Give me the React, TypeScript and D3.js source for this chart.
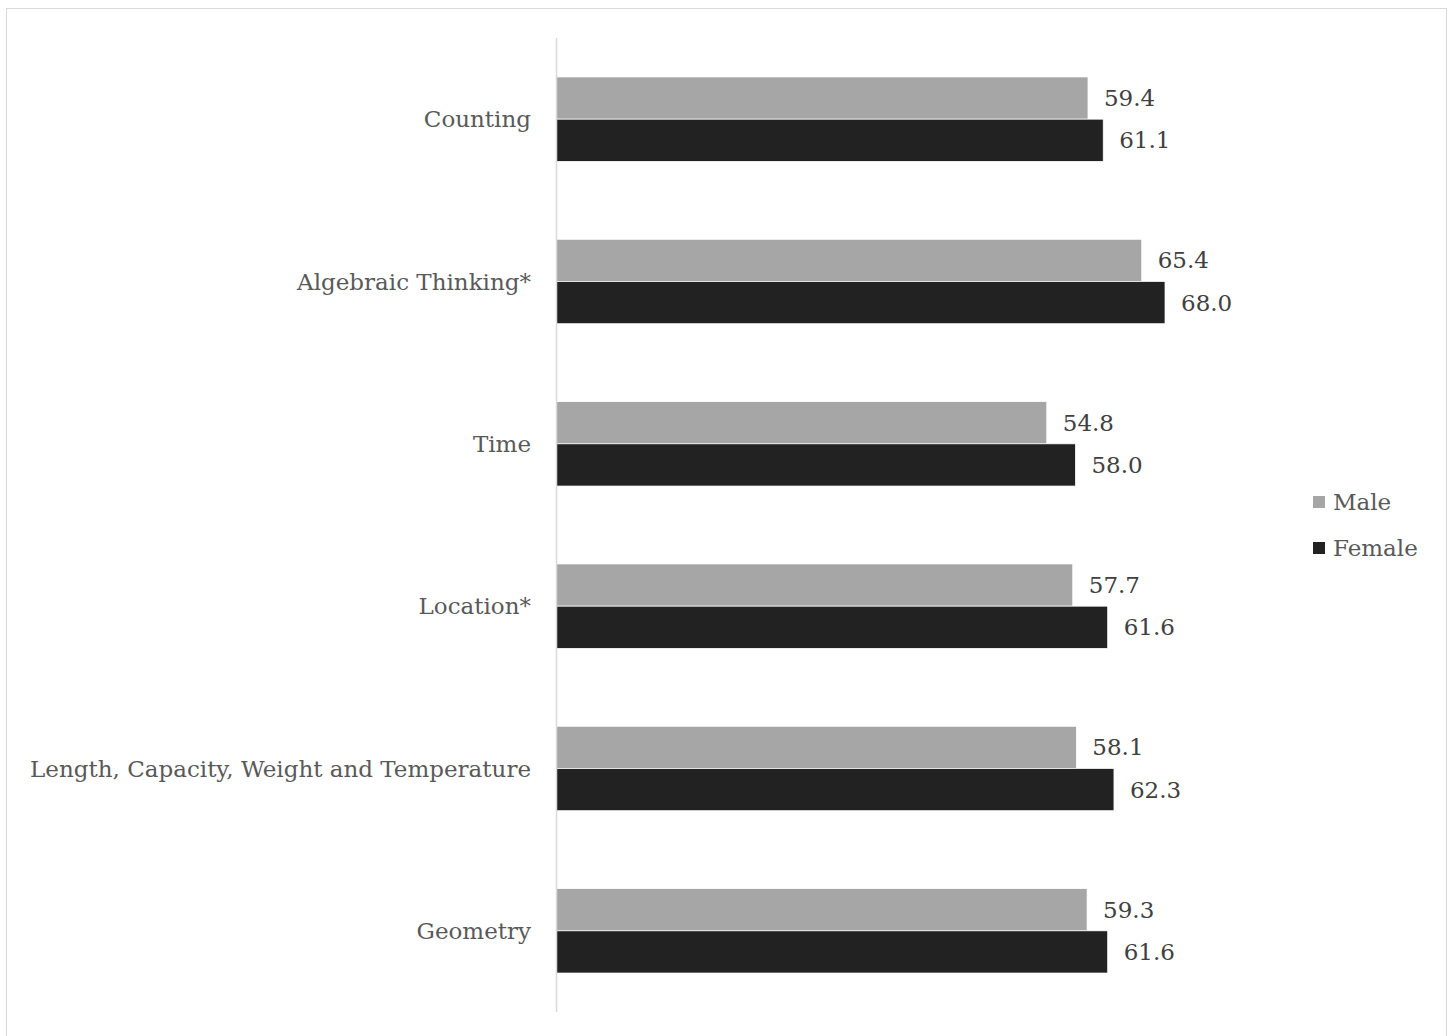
import React from "react";
import * as d3 from "d3";

const categories = [
  "Counting",
  "Algebraic Thinking*",
  "Time",
  "Location*",
  "Length, Capacity, Weight and Temperature",
  "Geometry",
];
const maleValues = [59.4, 65.4, 54.8, 57.7, 58.1, 59.3];
const femaleValues = [61.1, 68.0, 58.0, 61.6, 62.3, 61.6];
const seriesNames = ["Male", "Female"];
const seriesColors = ["#a6a6a6", "#222222"];

const W = 1450;
const H = 1036;
const FONT = "'DejaVu Serif', 'Liberation Serif', serif";

export default function App() {
  const left = 556;
  const top = 38;
  const bottom = 1012;
  const x = d3.scaleLinear().domain([0, 80]).range([left, left + 80 * 8.956]);
  const y = d3
    .scaleBand<string>()
    .domain(categories)
    .range([top, bottom])
    .paddingInner(0.48)
    .paddingOuter(0.24);
  const sub = d3
    .scaleBand<string>()
    .domain(seriesNames)
    .range([0, y.bandwidth()]);
  const series = [maleValues, femaleValues];

  return (
    <svg
      width={W}
      height={H}
      style={{ position: "absolute", left: 0, top: 0, background: "#fff" }}
    >
      <rect x={6.5} y={8.5} width={1440} height={1040} fill="#fff" stroke="#d9d9d9" strokeWidth={1} />
      {categories.map((c, i) => (
        <g key={c}>
          <text
            x={531}
            y={(y(c) as number) + y.bandwidth() / 2}
            textAnchor="end"
            dominantBaseline="central"
            fontFamily={FONT}
            fontSize={23}
            fill="#595959"
          >
            {c}
          </text>
          {series.map((vals, s) => {
            const yy = (y(c) as number) + (sub(seriesNames[s]) as number);
            const h = sub.bandwidth();
            return (
              <g key={s}>
                <rect
                  x={x(0)}
                  y={yy}
                  width={x(vals[i]) - x(0)}
                  height={h}
                  fill={seriesColors[s]}
                  stroke="#ffffff"
                  strokeWidth={0.75}
                />
                <text
                  x={x(vals[i]) + 16}
                  y={yy + h / 2}
                  dominantBaseline="central"
                  fontFamily={FONT}
                  fontSize={23}
                  fill="#404040"
                >
                  {vals[i].toFixed(1)}
                </text>
              </g>
            );
          })}
        </g>
      ))}
      <line x1={556.5} x2={556.5} y1={top} y2={bottom} stroke="#d9d9d9" strokeWidth={1.5} />
      {seriesNames.map((n, s) => (
        <g key={n}>
          <rect x={1313} y={496 + s * 46} width={12} height={12} fill={seriesColors[s]} />
          <text
            x={1333}
            y={502 + s * 46}
            dominantBaseline="central"
            fontFamily={FONT}
            fontSize={23}
            fill="#595959"
          >
            {n}
          </text>
        </g>
      ))}
    </svg>
  );
}
